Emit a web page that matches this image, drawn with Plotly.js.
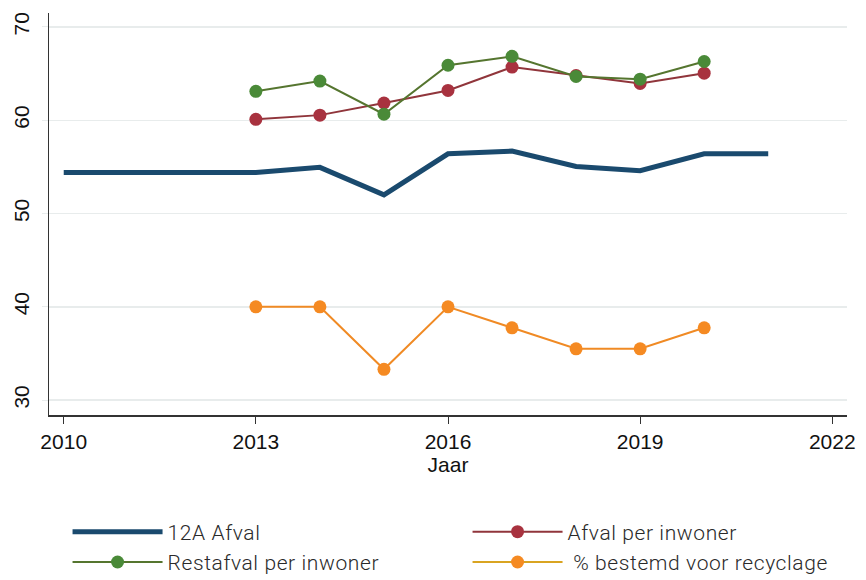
<!DOCTYPE html>
<html><head><meta charset="utf-8">
<script src="https://cdn.plot.ly/plotly-3.0.1.min.js"></script>
<style>body{margin:0;background:#fff}#chart{width:866px;height:580px}
#chart .legendtext{letter-spacing:0.6px}</style>
</head><body><div id="chart"></div>
<script>
const yearsBlue = [2010, 2011, 2012, 2013, 2014, 2015, 2016, 2017, 2018, 2019, 2020, 2021];
const afval12A = [54.4, 54.4, 54.4, 54.4, 54.95, 52.0, 56.4, 56.7, 55.05, 54.6, 56.4, 56.4];
const years = [2013, 2014, 2015, 2016, 2017, 2018, 2019, 2020];
const afvalPerInwoner = [60.1, 60.55, 61.85, 63.2, 65.7, 64.8, 63.95, 65.05];
const restafvalPerInwoner = [63.1, 64.2, 60.65, 65.9, 66.85, 64.7, 64.4, 66.3];
const recyclage = [40.0, 40.0, 33.3, 40.0, 37.75, 35.5, 35.5, 37.75];
const xTicks = [2010, 2013, 2016, 2019, 2022];
const yTicks = [30, 40, 50, 60, 70];
const names = ['12A Afval', 'Afval per inwoner', 'Restafval per inwoner', ' % bestemd voor recyclage'];

const traces = [
  {x: yearsBlue, y: afval12A, name: names[0], mode: 'lines', line: {color: '#1a4a6e', width: 5}},
  {x: years, y: afvalPerInwoner, name: names[1], mode: 'lines+markers', line: {color: '#90353b', width: 2}, marker: {color: '#a8323f', size: 13}},
  {x: years, y: restafvalPerInwoner, name: names[2], mode: 'lines+markers', line: {color: '#55752f', width: 2}, marker: {color: '#4a8a38', size: 13}},
  {x: years, y: recyclage, name: names[3], mode: 'lines+markers', line: {color: '#f08a24', width: 2}, marker: {color: '#f58a22', size: 13}, showlegend: false},
  {x: [null], y: [null], name: names[3], mode: 'lines+markers', line: {color: '#d9a421', width: 2}, marker: {color: '#f58a22', size: 13}}
];

const layout = {
  width: 866, height: 580,
  margin: {l: 49, r: 19, t: 13, b: 165},
  paper_bgcolor: '#fff', plot_bgcolor: '#fff',
  showlegend: true,
  font: {family: 'Liberation Sans, Arial, sans-serif', color: '#111'},
  xaxis: {
    range: [2009.77, 2022.23], tickvals: xTicks, ticktext: xTicks.map(String),
    showgrid: false, zeroline: false, showline: true, linecolor: '#333', linewidth: 1.5,
    ticks: 'outside', ticklen: 7, tickcolor: '#333', tickwidth: 1,
    tickfont: {size: 21, color: '#111'},
    title: {text: 'Jaar', font: {size: 21, color: '#111'}, standoff: 1}
  },
  yaxis: {
    range: [28.4, 71.5], tickvals: yTicks, ticktext: yTicks.map(String),
    showgrid: true, gridcolor: '#e8ecec', gridwidth: 1.5, zeroline: false,
    showline: true, linecolor: '#333', linewidth: 1.5,
    ticks: 'outside', ticklen: 6, tickcolor: '#e8ecec',
    tickangle: -90, tickfont: {size: 21, color: '#111'}, ticklabelstandoff: 4
  },
  legend: {
    orientation: 'h', xref: 'container', yref: 'container',
    x: 0.078, y: 0.118, xanchor: 'left', yanchor: 'top',
    entrywidth: 295, entrywidthmode: 'pixels', itemwidth: 90,
    font: {family: 'Roboto, sans-serif', size: 21, weight: 300, color: '#2a2a2a'},
    tracegroupgap: 0
  }
};
Plotly.newPlot('chart', traces, layout, {displayModeBar: false, staticPlot: true});
</script></body></html>
